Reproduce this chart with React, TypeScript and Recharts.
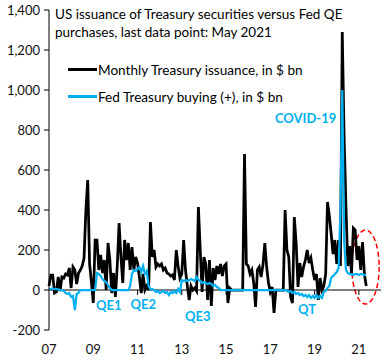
import {
  LineChart,
  Line,
  XAxis,
  YAxis,
  Legend,
  ReferenceLine,
  ReferenceDot,
  ReferenceArea,
} from "recharts";

// monthly, Jan 2007 .. May 2021, $ bn
const issuance = [
  20, 75, 75, -15, -10, 65, -5, 65, 60, 80, 75, 110,
  10, 115, 100, 30, 85, 100, 120, 160, 400, 550, 130, 40,
  -65, 250, 250, 100, 175, 85, 150, 0, 235, 150, -15, 85,
  -35, 120, 335, 165, 35, 250, 150, 235, 100, 215, 100, 165,
  135, 65, -15, 80, 0, 20, 0, 340, 165, 200, 115, 130,
  120, 130, 100, 110, 85, 80, 70, 75, 50, 200, 120, 60,
  80, 250, 100, 20, -50, 20, 0, 10, -5, 415, 200, -10,
  165, 130, -50, 150, -80, 110, 50, 120, 80, 130, 70, 120,
  130, -65, 10, 0, 0, 0, 0, 0, 0, 0, 680, 130,
  120, 80, 100, 35, -85, 100, 115, 65, 125, 235, 115, 35,
  -10, 15, -115, 0, 0, 0, 0, 0, 400, 200, 165, -35,
  -65, 365, 235, 15, 135, 65, 115, 150, 200, 135, 160, 100,
  50, 80, -50, 60, 0, 20, 80, 440, 370, 280, 180, 250,
  130, 250, 120, 1290, 760, 420, 120, 220, 80, 310, 300, 150,
  220, 100, 240, 80, 20,
];

const fedBuying = [
  5, 5, 8, 5, 5, 3, 0, 0, -5, -15, -20, -15,
  -35, -30, -100, -20, -15, 0, 0, 0, 0, 0, 0, 0,
  0, 0, 85, 80, 70, 55, 45, 40, 25, 10, 0, 0,
  0, 0, 0, 0, 0, 0, 0, 0, 20, 80, 100, 95,
  105, 115, 90, 120, 80, 95, 20, 5, 5, 0, -10, -5,
  -15, -10, -5, -15, -10, -25, -10, -15, -5, -15, 5, -10,
  50, 45, 50, 45, 50, 55, 50, 45, 65, 50, 45, 35,
  40, 35, 30, 35, 30, 20, 25, 15, 10, 0, 0, 0,
  0, 0, 0, 0, 0, 0, 0, 0, 0, 0, 0, 0,
  0, 0, 0, 0, 0, 0, 0, 0, 0, 0, 0, 0,
  0, 0, 0, 0, 0, 0, 0, 0, 0, -5, -10, -5,
  -15, -10, -20, -15, -25, -20, -30, -25, -35, -25, -40, -30,
  -40, -25, -40, -30, -40, -10, -5, 10, 20, 60, 70, 80,
  90, 110, 380, 1000, 250, 100, 85, 80, 80, 75, 80, 80,
  75, 80, 80, 75, 75,
];

const seriesNames = [
  "Monthly Treasury issuance, in $ bn",
  "Fed Treasury buying (+), in $ bn",
];
const xTicks = [0, 24, 48, 72, 96, 120, 144, 168];
const xTickLabels = ["07", "09", "11", "13", "15", "17", "19", "21"];
const yTicks = [-200, 0, 200, 400, 600, 800, 1000, 1200, 1400];

// annotations: [text, month, value]
const notes: [string, number, number][] = [
  ["QE1", 25.5, -100],
  ["QE2", 44.2, -95],
  ["QE3", 73.7, -155],
  ["QT", 135, -120],
  ["COVID-19", 122.5, 835],
];

const data = issuance.map((v, i) => ({ m: i, issuance: v, fed: fedBuying[i] }));

const BLUE = "#00B0F0";

function LegendBox({ payload }: any) {
  const items = [...(payload || [])].sort(
    (a: any, b: any) => seriesNames.indexOf(a.value) - seriesNames.indexOf(b.value)
  );
  return (
    <div>
      {items.map((e: any) => (
        <div
          key={e.value}
          style={{ display: "flex", alignItems: "center", height: 27 }}
        >
          <span
            style={{ width: 29, height: 2.5, background: e.color, display: "block" }}
          />
          <span style={{ fontSize: 13.6, color: "#000", marginLeft: 1 }}>
            {e.value}
          </span>
        </div>
      ))}
    </div>
  );
}

export default function App() {
  return (
    <div
      style={{
        position: "absolute",
        left: 0,
        top: 0,
        width: 384,
        height: 360,
        fontFamily: "Lato",
        background: "#fff",
      }}
    >
      <LineChart
        width={384}
        height={360}
        data={data}
        margin={{ top: 10, right: 3, bottom: 0, left: 0 }}
      >
        <XAxis
          dataKey="m"
          type="number"
          domain={[0, 180]}
          ticks={xTicks}
          interval={0}
          tickFormatter={(v) => xTickLabels[xTicks.indexOf(v)]}
          axisLine={false}
          tickLine={false}
          tickSize={6}
          tickMargin={9}
          height={30}
          tick={{ fill: "#111", fontSize: 13 }}
        />
        <YAxis
          domain={[-200, 1400]}
          ticks={yTicks}
          interval={0}
          tickFormatter={(v) => v.toLocaleString("en-US")}
          width={49}
          axisLine={{ stroke: "#000" }}
          tickLine={{ stroke: "#000" }}
          tickSize={5}
          tickMargin={4}
          tick={{ fill: "#111", fontSize: 13 }}
        />

        <ReferenceLine y={0} stroke="#000" strokeWidth={1} />
        {xTicks.slice(1).map((t) => (
          <ReferenceLine
            key={t}
            segment={[
              { x: t, y: 0 },
              { x: t, y: -25 },
            ]}
            stroke="#000"
          />
        ))}

        <Line
          dataKey="issuance"
          name={seriesNames[0]}
          stroke="#000"
          strokeWidth={2.75}
          dot={false}
          isAnimationActive={false}
        />
        <Line
          dataKey="fed"
          name={seriesNames[1]}
          stroke={BLUE}
          strokeWidth={2.25}
          dot={false}
          isAnimationActive={false}
        />

        {notes.map(([label, m, v]) => (
          <ReferenceDot
            key={label}
            x={m}
            y={v}
            r={1}
            shape={(p: any) => (
              <text
                x={p.cx}
                y={p.cy}
                fill={BLUE}
                fontSize={13}
                fontWeight="bold"
              >
                {label}
              </text>
            )}
          />
        ))}

        {/* red dashed ring round the latest months */}
        <ReferenceArea
          x1={164.2}
          x2={179}
          y1={-70}
          y2={300}
          ifOverflow="visible"
          shape={(p: any) => (
            <ellipse
              cx={p.x + p.width / 2}
              cy={p.y + p.height / 2}
              rx={p.width / 2}
              ry={p.height / 2}
              fill="none"
              stroke="#FF0000"
              strokeWidth={1.5}
              strokeDasharray="5 3"
            />
          )}
        />

        <Legend
          layout="vertical"
          align="center"
          verticalAlign="middle"
          content={<LegendBox />}
          wrapperStyle={{ top: 56, left: 68, width: "auto" }}
        />
      </LineChart>

      <div
        style={{
          position: "absolute",
          left: 55,
          top: 5,
          fontSize: 13.5,
          lineHeight: "18px",
          color: "#000",
          whiteSpace: "nowrap",
        }}
      >
        US issuance of Treasury securities versus Fed QE
        <br />
        purchases, last data point: May 2021
      </div>
    </div>
  );
}
